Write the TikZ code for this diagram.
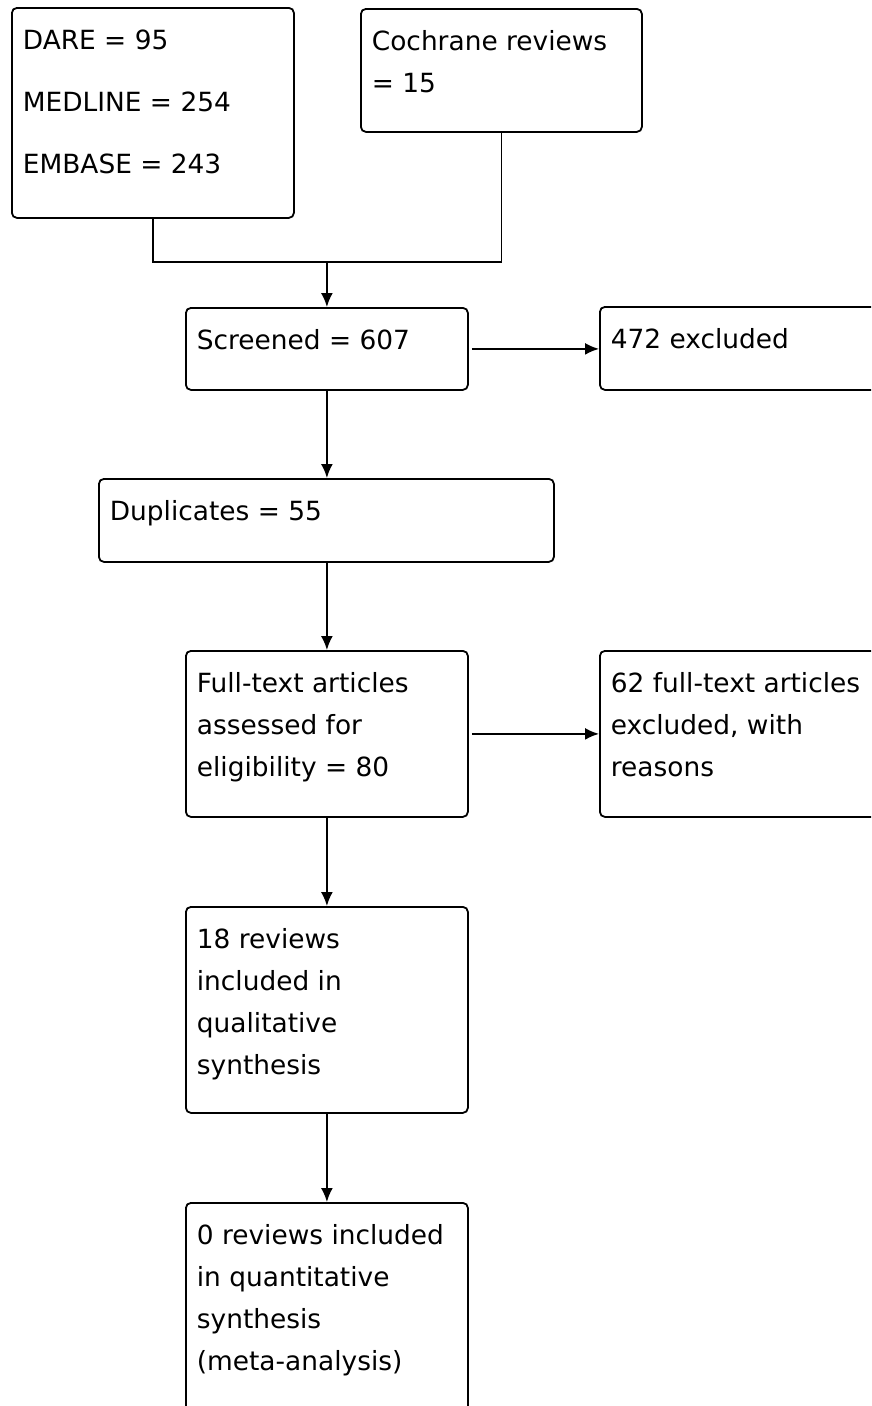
\documentclass[tikz,border=0pt]{standalone}
\usepackage{fontspec}
\setmainfont{DejaVu Sans}
\usetikzlibrary{arrows.meta}
\newcommand{\flowtxt}[3]{\parbox[c][#2][t]{#1}{\raggedright\rule{0pt}{42pt}#3}}

\begin{document}
\begin{tikzpicture}[x=1pt,y=1pt,box/.style={draw,rounded corners=5pt,line width=1.8pt,anchor=north west,inner xsep=11pt,inner ysep=0pt,font=\fontsize{26.4}{42}\selectfont},arr/.style={-{Latex[length=14pt,width=12pt]},line width=1.8pt},link/.style={line width=1.8pt}]
\useasboundingbox (0,0) rectangle (871,-1406);
\clip (0,0) rectangle (871,-1406);
\node[box](dare) at (11,-7){\flowtxt{260pt}{210pt}{DARE = 95\\[20pt]MEDLINE = 254\\[20pt]EMBASE = 243}};
\node[box](coch) at (360,-8){\flowtxt{259pt}{123pt}{Cochrane reviews\\= 15}};
\node[box](scr) at (185,-307){\flowtxt{260pt}{82pt}{Screened = 607}};
\node[box](exc) at (599,-306){\flowtxt{260pt}{83pt}{472 excluded}};
\node[box](dup) at (98,-478){\flowtxt{433pt}{83pt}{Duplicates = 55}};
\node[box](full) at (185,-650){\flowtxt{260pt}{166pt}{Full-text articles\\assessed for\\eligibility = 80}};
\node[box](fexc) at (599,-650){\flowtxt{260pt}{166pt}{62 full-text articles\\excluded, with\\reasons}};
\node[box](qual) at (185,-906){\flowtxt{260pt}{206pt}{18 reviews\\included in\\qualitative\\synthesis}};
\node[box](quant) at (185,-1202){\flowtxt{260pt}{212pt}{0 reviews included\\in quantitative\\synthesis\\(meta-analysis)}};
\coordinate (join) at (scr.north |- 0,-262);
\draw[link](dare.south) |- (join) -| (coch.south);
\draw[arr](join)--(scr.north);
\draw[arr]([xshift=3pt]scr.east)--(scr.east -| exc.west);
\draw[arr](scr.south)--(scr.south |- dup.north);
\draw[arr](dup.south -| full.north)--(full.north);
\draw[arr]([xshift=3pt]full.east)--(full.east -| fexc.west);
\draw[arr](full.south)--(qual.north);
\draw[arr](qual.south)--(quant.north);
\end{tikzpicture}
\end{document}
